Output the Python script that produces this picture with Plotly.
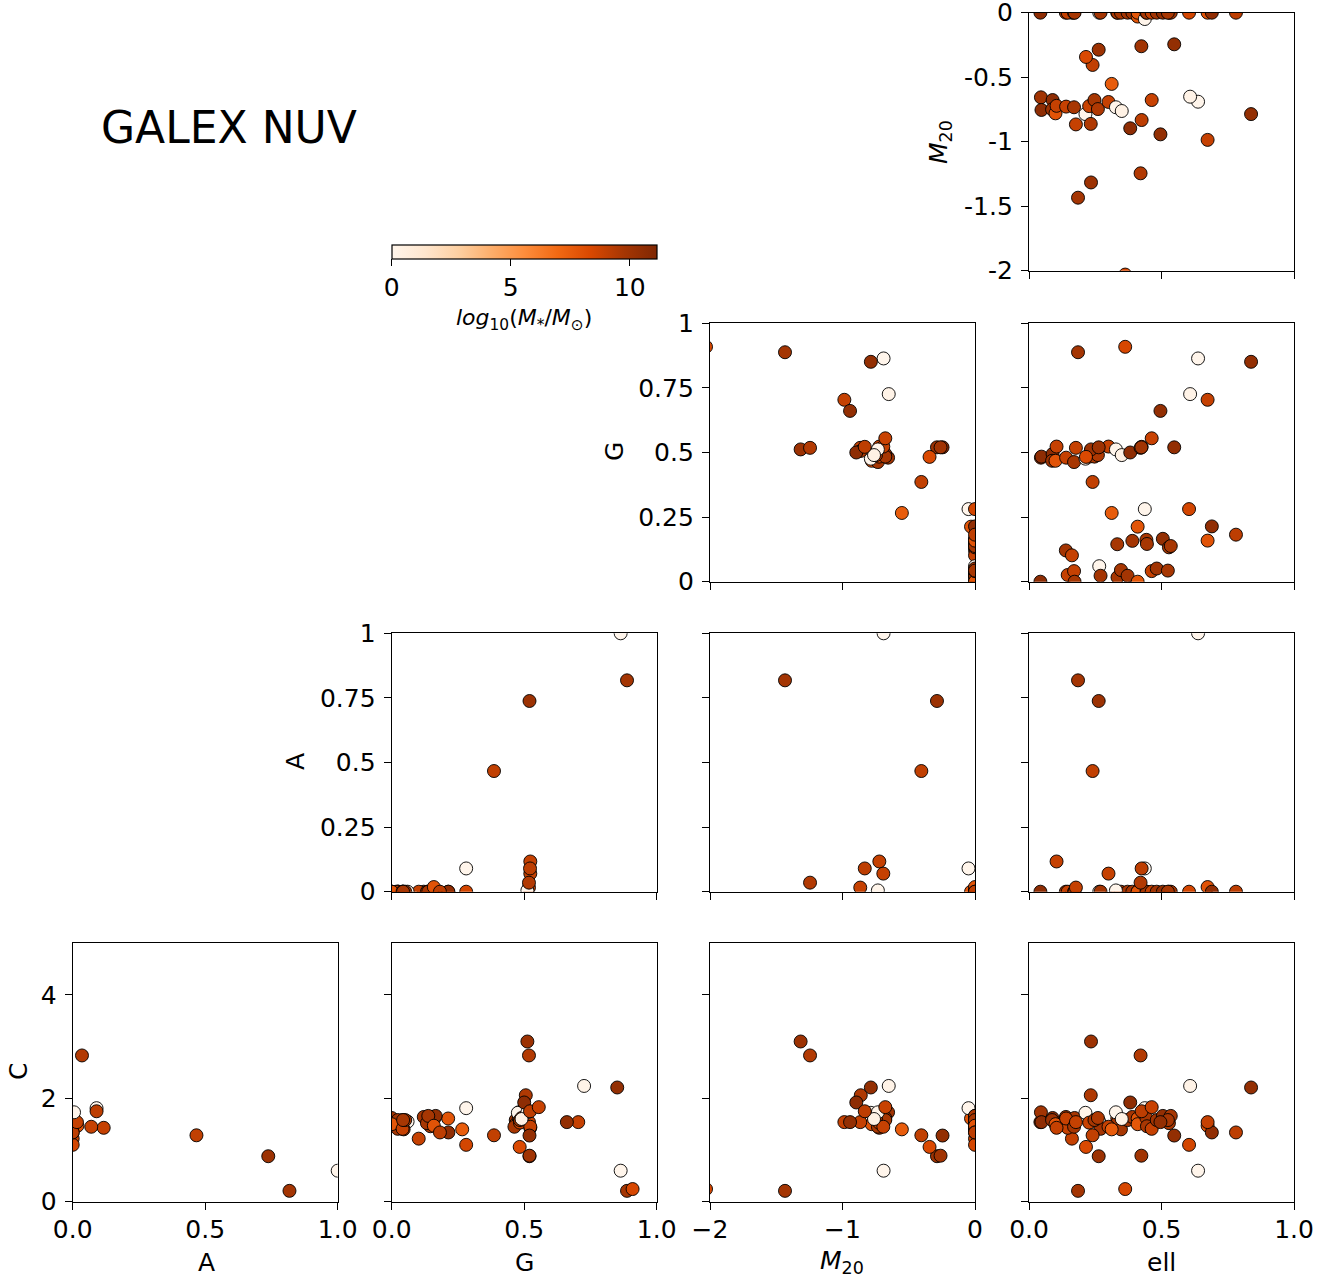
import plotly.graph_objects as go

# ---------------- data (one entry per galaxy) ----------------
ell = [0.043, 0.139, 0.162, 0.146, 0.170, 0.172, 0.265, 0.270, 0.333, 0.334,
       0.347, 0.372, 0.390, 0.410, 0.410, 0.437, 0.443, 0.445, 0.463, 0.482,
       0.505, 0.528, 0.535, 0.524, 0.604, 0.674, 0.690, 0.781,
       0.045, 0.047, 0.089, 0.087, 0.100, 0.104, 0.140, 0.170, 0.177, 0.213,
       0.227, 0.233, 0.247, 0.260, 0.300, 0.328, 0.350, 0.382, 0.425, 0.463,
       0.185, 0.363, 0.638, 0.608, 0.838, 0.674, 0.496, 0.234, 0.421, 0.263,
       0.240, 0.312, 0.215, 0.548, 0.424]
m20 = [0.0, 0.0, 0.0, 0.0, 0.0, 0.0, 0.0, 0.0, 0.0, 0.0,
       0.0, 0.0, 0.0, -0.03, 0.0, -0.049, 0.0, 0.0, 0.0, 0.0,
       0.0, 0.0, 0.0, 0.0, 0.0, 0.0, 0.0, 0.0,
       -0.656, -0.754, -0.677, -0.750, -0.780, -0.722, -0.728, -0.733, -0.866, -0.786,
       -0.724, -0.862, -0.677, -0.747, -0.692, -0.733, -0.762, -0.896, -0.832, -0.677,
       -1.434, -2.03, -0.690, -0.651, -0.786, -0.986, -0.943, -1.316, -1.245, -0.287,
       -0.405, -0.552, -0.343, -0.245, -0.260]
gini = [0.000, 0.121, 0.102, 0.026, 0.041, 0.000, 0.060, 0.023, 0.145, 0.017,
        0.045, 0.023, 0.158, 0.213, 0.000, 0.281, 0.162, 0.146, 0.041, 0.051,
        0.166, 0.133, 0.138, 0.043, 0.281, 0.159, 0.214, 0.182,
        0.480, 0.484, 0.494, 0.468, 0.468, 0.523, 0.480, 0.463, 0.518, 0.476,
        0.484, 0.506, 0.484, 0.490, 0.523, 0.512, 0.490, 0.500, 0.522, 0.555,
        0.888, 0.909, 0.864, 0.726, 0.851, 0.704, 0.661, 0.512, 0.518, 0.520,
        0.386, 0.266, 0.483, 0.520, 0.520]
asym = [0.0, 0.0, 0.0, 0.0, 0.0, 0.0, 0.0, 0.0, 0.0, 0.0,
        0.0, 0.0, 0.0, 0.0, 0.0, 0.09, 0.0, 0.0, 0.0, 0.0,
        0.0, 0.0, 0.0, 0.0, 0.0, 0.018, 0.0, 0.0,
        -0.1, -0.1, -0.1, -0.1, -0.1, 0.117, -0.1, -0.1, 0.016, -0.1,
        -0.1, -0.1, -0.1, -0.1, 0.070, 0.005, -0.1, -0.1, 0.090, -0.1,
        0.818, -0.1, 1.0, -0.1, -0.1, -0.1, -0.1, -0.1, 0.035, 0.738,
        0.467, -0.1, -0.1, -0.1, -0.1]
conc = [1.54, 1.64, 1.22, 1.43, 1.58, 1.62, 1.55, 1.41, 1.61, 1.53,
        1.40, 1.58, 1.64, 1.61, 1.50, 1.81, 1.62, 1.46, 1.41, 1.58,
        1.66, 1.52, 1.66, 1.58, 1.10, 1.47, 1.34, 1.34,
        1.73, 1.54, 1.62, 1.58, 1.50, 1.43, 1.61, 1.45, 1.54, 1.72,
        1.53, 2.06, 1.58, 1.62, 1.45, 1.73, 1.60, 1.92, 1.75, 1.83,
        0.21, 0.245, 0.60, 2.24, 2.21, 1.54, 1.54, 3.10, 2.83, 0.88,
        1.285, 1.40, 1.06, 1.28, 0.89]
logmass = [10.6, 9.8, 8.9, 8.9, 8.9, 9.7, 0.0, 9.8, 9.7, 9.7,
           9.7, 9.8, 9.8, 7.8, 7.7, 0.0, 9.7, 9.7, 8.9, 9.9,
           10.4, 9.7, 9.7, 9.7, 8.5, 7.9, 10.5, 9.1,
           9.9, 10.6, 10.6, 10.1, 7.9, 8.9, 8.9, 9.7, 8.9, 0.0,
           8.8, 9.5, 9.7, 9.5, 8.9, 0.0, 0.3, 10.6, 9.1, 8.8,
           9.8, 8.4, 0.0, 0.2, 10.4, 8.9, 10.4, 10.1, 9.4, 10.1,
           9.0, 7.5, 8.3, 10.4, 9.9]

x_ticks = {"A": [0, 0.5, 1], "G": [0, 0.5, 1], "ell": [0, 0.5, 1], "M20": [-2, -1, 0]}
x_ticklabels = {"A": ["0.0", "0.5", "1.0"], "G": ["0.0", "0.5", "1.0"],
                "ell": ["0.0", "0.5", "1.0"], "M20": ["\u22122", "\u22121", "0"]}
y_ticks = {"M20": [0, -0.5, -1, -1.5, -2], "G": [0, 0.25, 0.5, 0.75, 1],
           "A": [0, 0.25, 0.5, 0.75, 1], "C": [0, 2, 4]}
y_ticklabels = {"M20": ["0", "-0.5", "-1", "-1.5", "-2"],
                "G": ["0", "0.25", "0.5", "0.75", "1"],
                "A": ["0", "0.25", "0.5", "0.75", "1"], "C": ["0", "2", "4"]}
cbar_ticks = [0, 5, 10]

# ---------------- layout helpers ----------------
W, H = 1338, 1279


def fx(x):
    return x / W


def fy(y):
    return 1 - y / H


COLS = {1: (72.7, 337.7), 2: (391.7, 656.7), 3: (710.0, 975.0), 4: (1029.0, 1294.0)}
ROWS = {1: (12.7, 270.7), 2: (323.3, 581.7), 3: (633.3, 891.7), 4: (943.3, 1201.7)}

series = {"A": asym, "G": gini, "M20": m20, "ell": ell, "C": conc}
ranges = {"A": [0, 1], "G": [0, 1], "M20": [-2, 0], "ell": [0, 1], "C": [0, 5]}

panels = [(1, 4, "ell", "M20"), (2, 3, "M20", "G"), (2, 4, "ell", "G"),
          (3, 2, "G", "A"), (3, 3, "M20", "A"), (3, 4, "ell", "A"),
          (4, 1, "A", "C"), (4, 2, "G", "C"), (4, 3, "M20", "C"), (4, 4, "ell", "C")]
first_col = {1: 4, 2: 3, 3: 2, 4: 1}

oranges = [[0.0, "#fff5eb"], [0.125, "#fee6ce"], [0.25, "#fdd0a2"], [0.375, "#fdae6b"],
           [0.5, "#fd8d3c"], [0.625, "#f16913"], [0.75, "#d94801"], [0.875, "#a63603"],
           [1.0, "#7f2704"]]
CMAX = 11.13
FONT = "DejaVu Sans"
TICKFS = 25

fig = go.Figure()
layout = dict(width=W, height=H,
              margin=dict(l=0, r=0, t=0, b=0, pad=0, autoexpand=False),
              paper_bgcolor="white", plot_bgcolor="white", showlegend=False,
              font=dict(family=FONT, size=TICKFS, color="black"))

axis_common = dict(showline=True, mirror=True, linecolor="black", linewidth=1.3,
                   ticks="outside", ticklen=7, tickwidth=1.3, tickcolor="black",
                   showgrid=False, zeroline=False, fixedrange=True, automargin=False,
                   ticklabeloverflow="allow",
                   tickfont=dict(family=FONT, size=TICKFS, color="black"))

for i, (r, c, xv, yv) in enumerate(panels, start=1):
    xa = "x" if i == 1 else f"x{i}"
    ya = "y" if i == 1 else f"y{i}"
    tr = dict(
        x=series[xv], y=series[yv], mode="markers", xaxis=xa, yaxis=ya,
        cliponaxis=True, hoverinfo="skip",
        marker=dict(size=13, color=logmass, colorscale=oranges, cmin=0, cmax=CMAX,
                    line=dict(color="black", width=0.9), opacity=1,
                    showscale=(i == 1)),
    )
    if i == 1:
        tr["marker"]["colorbar"] = dict(
            orientation="h", x=fx((391.7 + 656.7) / 2), xanchor="center",
            y=fy(245), yanchor="top", len=265 / W, lenmode="fraction",
            thickness=14, thicknessmode="pixels", xpad=0, ypad=0,
            outlinecolor="black", outlinewidth=1.2,
            tickvals=cbar_ticks, ticktext=[str(t) for t in cbar_ticks],
            ticks="outside", ticklen=7, tickwidth=1.2, tickcolor="black",
            tickfont=dict(family=FONT, size=TICKFS, color="black"),
        )
    fig.add_trace(go.Scatter(**tr))

    xkey = "xaxis" if i == 1 else f"xaxis{i}"
    ykey = "yaxis" if i == 1 else f"yaxis{i}"
    x0, x1 = COLS[c]
    y0, y1 = ROWS[r]
    layout[xkey] = dict(axis_common, domain=[fx(x0), fx(x1)], range=ranges[xv],
                        anchor=ya, tickvals=x_ticks[xv], ticklabelstandoff=-2,
                        ticktext=x_ticklabels[xv], showticklabels=(r == 4))
    layout[ykey] = dict(axis_common, domain=[fy(y1), fy(y0)], range=ranges[yv],
                        anchor=xa, tickvals=y_ticks[yv], ticklabelstandoff=3,
                        ticktext=y_ticklabels[yv], showticklabels=(c == first_col[r]))

annotations = []
ytitles = [("<i>M</i><sub>20</sub>", 940, 142), ("G", 615, 452), ("A", 295, 762), ("C", 18, 1072)]
for txt, xp, yp in ytitles:
    annotations.append(dict(text=txt, x=fx(xp), y=fy(yp), xref="paper", yref="paper",
                            xanchor="center", yanchor="middle", textangle=-90, showarrow=False,
                            font=dict(family=FONT, size=TICKFS, color="black")))
xtitles = [("A", 206, 1262), ("G", 524, 1262), ("<i>M</i><sub>20</sub>", 842, 1262), ("ell", 1161, 1262)]
for txt, xp, yp in xtitles:
    annotations.append(dict(text=txt, x=fx(xp), y=fy(yp), xref="paper", yref="paper",
                            xanchor="center", yanchor="middle", showarrow=False,
                            font=dict(family=FONT, size=TICKFS, color="black")))
annotations.append(dict(text="<i>log</i><sub>10</sub>(<i>M</i><sub>*</sub>/<i>M</i><sub>\u2299</sub>)",
                        x=fx(524), y=fy(319), xref="paper", yref="paper",
                        xanchor="center", yanchor="middle", showarrow=False,
                        font=dict(family=FONT, size=22, color="black")))
annotations.append(dict(text="GALEX NUV", x=fx(99), y=fy(127), xref="paper", yref="paper",
                        xanchor="left", yanchor="middle", showarrow=False,
                        font=dict(family=FONT, size=44, color="black")))
layout["annotations"] = annotations

fig.update_layout(**layout)
fig.write_html("out.html", config={"displayModeBar": False},
               post_script="document.body.style.margin='0px';")
